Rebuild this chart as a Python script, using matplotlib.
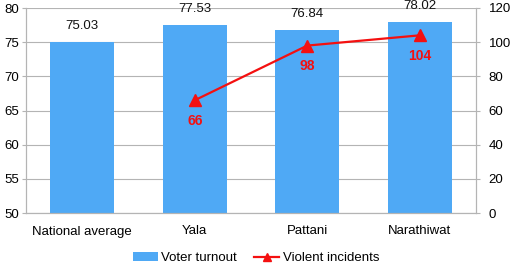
import matplotlib
matplotlib.use('Agg')
import matplotlib.pyplot as plt
import numpy as np

plt.rcParams['font.family'] = ['Liberation Sans', 'DejaVu Sans']

categories = ['National average', 'Yala', 'Pattani', 'Narathiwat']
turnout = [75.03, 77.53, 76.84, 78.02]
incident_cats = ['Yala', 'Pattani', 'Narathiwat']
incidents = [66, 98, 104]

bar_color = '#4FA9F5'
line_color = '#F41010'
grid_color = '#B4B4B4'

fig = plt.figure(figsize=(5.12, 2.65), dpi=100)
ax = fig.add_axes([26 / 512, 1 - 213 / 265, 450 / 512, 205 / 265])
ax2 = ax.twinx()

x = np.arange(len(categories))
ax.bar(x, [v - 50 for v in turnout], bottom=50, width=0.57, color=bar_color,
       label='Voter turnout', zorder=2)
for xi, v in zip(x, turnout):
    ax.text(xi, v + 1.4, '%.2f' % v, ha='center', va='bottom', fontsize=9.5, color='#111111')

ax.set_xlim(-0.5, len(categories) - 0.5)
ax.set_ylim(50, 80)
ax.set_yticks(range(50, 81, 5))
ax.set_xticks(x)
ax.set_xticklabels(categories, fontsize=9.5)
ax.tick_params(axis='y', labelsize=9.5, length=3, color=grid_color, pad=2)
ax.tick_params(axis='x', length=0, pad=9)
ax.grid(axis='y', color=grid_color, linewidth=0.8, zorder=0)
ax.set_axisbelow(True)

xi_line = [categories.index(c) for c in incident_cats]
ax2.plot(xi_line, incidents, color=line_color, marker='^', markersize=8, linewidth=1.6,
         label='Violent incidents', zorder=3)
for xi, v in zip(xi_line, incidents):
    ax2.text(xi, v - 8, str(v), ha='center', va='top', fontsize=10, color=line_color,
             fontweight='bold')
ax2.set_ylim(0, 120)
ax2.set_yticks(range(0, 121, 20))
ax2.tick_params(axis='y', labelsize=9.5, length=3, color=grid_color, pad=6)

for a in (ax, ax2):
    a.spines['top'].set_visible(False)
    a.spines['left'].set_color(grid_color)
    a.spines['right'].set_color(grid_color)
    a.spines['bottom'].set_color(grid_color)

h1, l1 = ax.get_legend_handles_labels()
h2, l2 = ax2.get_legend_handles_labels()
fig.legend(h1 + h2, l1 + l2, loc='center', bbox_to_anchor=(0.5, 7 / 265), ncol=2,
           frameon=False, fontsize=9.5, handlelength=1.9, columnspacing=1.3,
           handletextpad=0.25, borderpad=0, markerscale=0.7)

fig.savefig('out.png', dpi=100)
